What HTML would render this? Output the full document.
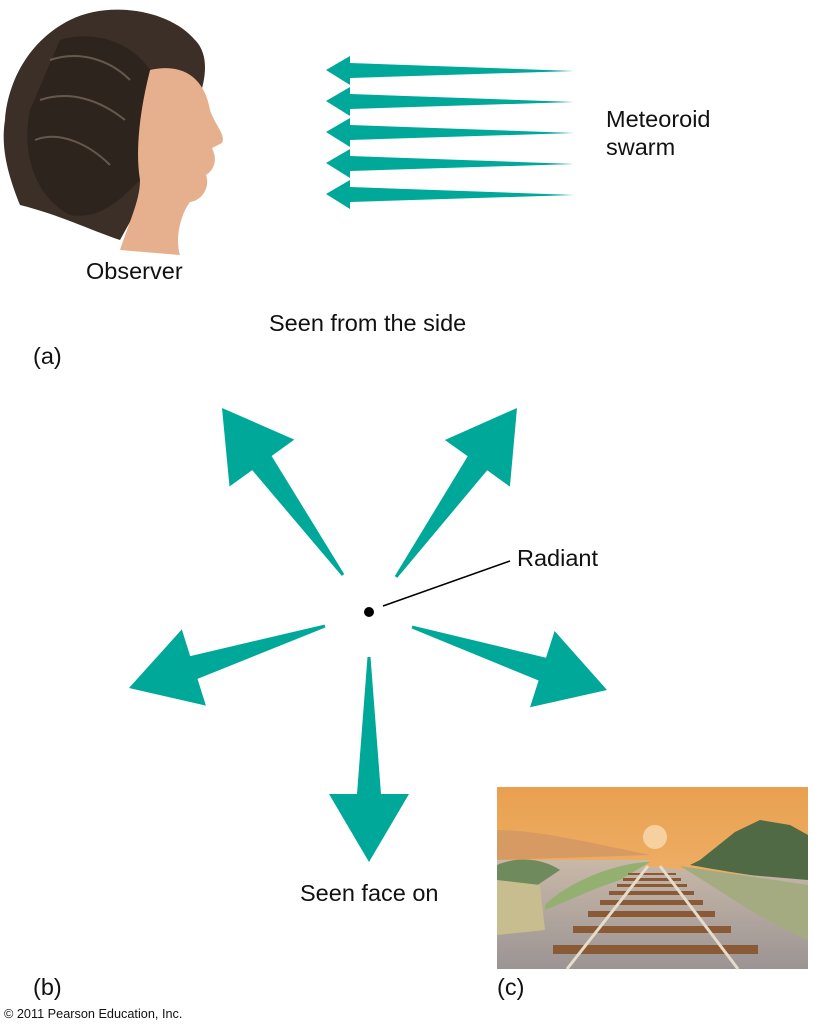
<!DOCTYPE html>
<html><head><meta charset="utf-8"><style>
body{margin:0;background:#fff;width:815px;height:1032px;overflow:hidden;font-family:"Liberation Sans",Arial,sans-serif;}
.t{position:absolute;color:#111;font-size:23.5px;}
</style></head><body>
<svg width="815" height="1032" style="position:absolute;left:0;top:0">
<defs>
<linearGradient id="sky" x1="0" y1="0" x2="0" y2="1"><stop offset="0" stop-color="#e9a050"/><stop offset="1" stop-color="#f2bd7a"/></linearGradient>
<linearGradient id="gr" x1="0" y1="0" x2="0" y2="1"><stop offset="0" stop-color="#c9b8a8"/><stop offset="1" stop-color="#9b9494"/></linearGradient>
</defs>
<!-- head -->
<path d="M70,20 C110,0 170,10 195,40 C210,55 205,80 200,95 L120,240 C90,230 60,215 20,205 C10,180 0,150 5,120 C8,80 30,40 70,20Z" fill="#3b2f27"/>
<path d="M150,70 C185,62 205,80 210,110 C215,125 226,135 222,143 L212,148 C218,160 214,170 206,175 C210,185 204,200 190,202 C180,215 175,240 180,255 L120,250 C130,220 140,200 140,180 C130,160 140,110 150,70Z" fill="#e6b08f"/>
<path d="M60,40 C90,30 130,40 150,70 C140,110 135,150 140,180 C120,200 100,220 70,215 C40,200 20,160 30,110Z" fill="#2e241e"/>
<g stroke="#8a7b6c" stroke-width="2" fill="none" opacity=".6"><path d="M50,60 C80,50 110,60 130,80"/><path d="M40,100 C70,90 100,100 125,120"/><path d="M35,140 C60,130 90,145 110,165"/></g>
<!-- meteoroid arrows -->
<g fill="#00a89a">
<polygon points="326,70 350,56 350,63 574,71 350,78 350,85"/>
<polygon points="326,101 350,87 350,94 574,102 350,109 350,116"/>
<polygon points="326,132 350,118 350,125 574,133 350,140 350,147"/>
<polygon points="326,163 350,149 350,156 574,164 350,171 350,178"/>
<polygon points="326,194 350,180 350,187 574,195 350,202 350,209"/>
</g>
<g id="rad" fill="#00a89a"></g>
<circle cx="369" cy="612" r="5" fill="#000"/>
<line x1="383" y1="606" x2="510" y2="561" stroke="#000" stroke-width="1.5"/>
<!-- railway -->
<g>
<rect x="497" y="787" width="311" height="182" fill="url(#sky)"/>
<path d="M497,830 C540,830 600,845 650,855 L497,860Z" fill="#d79a62"/>
<circle cx="655" cy="837" r="12" fill="#f7d0a0"/>
<path d="M700,860 L735,832 760,820 790,825 808,835 L808,880 C770,880 720,870 690,865Z" fill="#4f6a44"/>
<path d="M497,860 L650,860 640,866 L808,880 L808,969 L497,969Z" fill="url(#gr)"/>
<path d="M497,865 C520,855 545,860 560,870 L530,890 L497,880Z" fill="#6f8a5c"/>
<path d="M545,905 C570,880 620,862 650,862 L620,880 C590,890 570,900 545,910Z" fill="#93b070"/>
<path d="M497,880 L540,885 545,930 L497,935Z" fill="#c7bd8f"/>
<path d="M680,866 L808,885 L808,940 C760,920 720,890 680,866Z" fill="#a4ab80"/>
<g fill="#8a5a36">
<rect x="553" y="945" width="205" height="9"/><rect x="573" y="926" width="158" height="7"/><rect x="588" y="911" width="127" height="6"/><rect x="600" y="900" width="103" height="5"/><rect x="609" y="891" width="85" height="4"/><rect x="617" y="884" width="70" height="3"/><rect x="623" y="878" width="58" height="3"/><rect x="628" y="873" width="48" height="2"/>
</g>
<path d="M567,969 L648,866 M738,969 L660,866" stroke="#e5dccb" stroke-width="3"/>
</g>
</svg>
<div class="t" style="left:86px;top:258px">Observer</div>
<div class="t" style="left:606px;top:105px;line-height:28px">Meteoroid<br>swarm</div>
<div class="t" style="left:269px;top:310px">Seen from the side</div>
<div class="t" style="left:33px;top:343px">(a)</div>
<div class="t" style="left:517px;top:545px">Radiant</div>
<div class="t" style="left:300px;top:880px">Seen face on</div>
<div class="t" style="left:33px;top:974px">(b)</div>
<div class="t" style="left:497px;top:974px">(c)</div>
<div class="t" style="left:4px;top:1007px;font-size:12.7px">© 2011 Pearson Education, Inc.</div>
<script>
var arrows=[[343,575,222,408],[396,577,517,408],[325,626,129,688],[412,627,607,690],[369,657,369,862]];
var g=document.getElementById('rad'),s='';
arrows.forEach(function(a){
 var dx=a[2]-a[0],dy=a[3]-a[1],len=Math.hypot(dx,dy),ux=dx/len,uy=dy/len,px=-uy,py=ux;
 var L=68,H=40,N=12,T=1.5;
 var bx=a[2]-ux*L,by=a[3]-uy*L;
 var p=[[a[0]+px*T,a[1]+py*T],[bx+px*N,by+py*N],[bx+px*H,by+py*H],[a[2],a[3]],[bx-px*H,by-py*H],[bx-px*N,by-py*N],[a[0]-px*T,a[1]-py*T]];
 s+='<polygon points="'+p.map(function(q){return q[0].toFixed(1)+','+q[1].toFixed(1)}).join(' ')+'"/>';
});
g.innerHTML=s;
</script>
</body></html>
